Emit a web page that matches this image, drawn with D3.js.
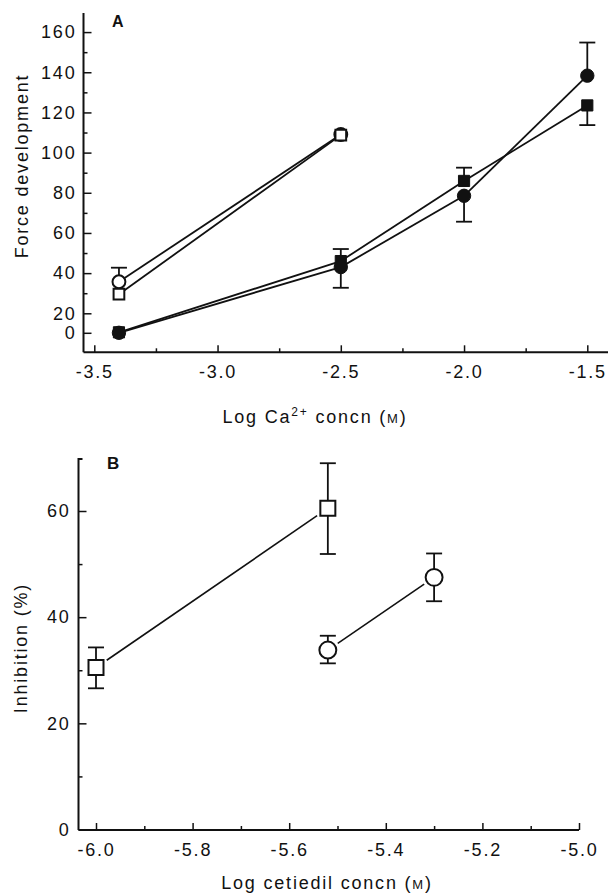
<!DOCTYPE html>
<html>
<head>
<meta charset="utf-8">
<script src="https://cdn.jsdelivr.net/npm/d3@7"></script>
<style>
  html, body { margin: 0; padding: 0; background: #fff; }
  svg { display: block; }
  text { font-family: "Liberation Sans", Arial, Helvetica, sans-serif; fill: #111; }
</style>
</head>
<body>
<svg id="chart" width="608" height="896"></svg>
<script>
// ---------------- DATA ----------------
// Panel A: force development vs log Ca2+ concentration
const caConc = [-3.4, -2.5, -2.0, -1.5];
const openCircleA = [35.7, 109];          // first two concentrations
const openCircleAErrUp = [7, 0];
const openSquareA = [29.5, 108.7];
const filledCircleA = [0, 43, 78.5, 138.3];
const filledCircleAErrUp = [0, 0, 0, 16.5];
const filledCircleAErrDown = [0, 10.3, 12.9, 0];
const filledSquareA = [0.5, 46, 85.9, 123.5];
const filledSquareAErrUp = [0, 6, 6.6, 0];
const filledSquareAErrDown = [0, 0, 0, 9.8];
const yTicksA = [0, 20, 40, 60, 80, 100, 120, 140, 160];
const yMinorA = [30, 50, 70, 90, 110, 130, 150];
const xTicksA = [-3.5, -3.0, -2.5, -2.0, -1.5];
const xMinorA = [-3.25, -2.75, -2.25, -1.75];

// Panel B: inhibition vs log cetiedil concentration
const cetSquareX = [-6.0, -5.52];
const squareB = [30.5, 60.5];
const squareBErrUp = [3.8, 8.5];
const squareBErrDown = [3.9, 8.6];
const cetCircleX = [-5.52, -5.3];
const circleB = [33.8, 47.5];
const circleBErrUp = [2.7, 4.5];
const circleBErrDown = [2.5, 4.5];
const yTicksB = [0, 20, 40, 60];
const yMinorB = [10, 30, 50];
const xTicksB = [-6.0, -5.8, -5.6, -5.4, -5.2, -5.0];
const xMinorB = [-5.9, -5.7, -5.5, -5.3, -5.1];

// ---------------- LAYOUT ----------------
const svg = d3.select("#chart");
const INK = "#111";
const FS = 18, LS = "1.8px";
const fmt = d => d.toFixed(1);

function styleAxis(g) {
  g.select(".domain").remove();
  g.attr("font-size", FS).attr("font-family", '"Liberation Sans", Arial, sans-serif');
  g.selectAll(".tick line").attr("stroke", INK).attr("stroke-width", 1.5);
  g.selectAll(".tick text").attr("fill", INK).style("letter-spacing", LS);
}

function series(g, xs, ys, xS, yS, opt) {
  const pts = xs.map((x, i) => [xS(x), yS(ys[i])]);
  for (let i = 0; i < pts.length - 1; i++) {
    let [x1, y1] = pts[i], [x2, y2] = pts[i + 1];
    const dx = x2 - x1, dy = y2 - y1, L = Math.hypot(dx, dy);
    const gap = opt.gap || 0;
    g.append("line")
      .attr("x1", x1 + dx / L * gap).attr("y1", y1 + dy / L * gap)
      .attr("x2", x2 - dx / L * gap).attr("y2", y2 - dy / L * gap)
      .attr("stroke", INK).attr("stroke-width", opt.lw || 1.8);
  }
  xs.forEach((x, i) => {
    const up = opt.errUp ? opt.errUp[i] : 0, dn = opt.errDown ? opt.errDown[i] : 0;
    const cx = xS(x);
    [[up, 1], [dn, -1]].forEach(([e, s]) => {
      if (!e) return;
      const yEnd = yS(ys[i] + s * e);
      g.append("line").attr("x1", cx).attr("x2", cx)
        .attr("y1", yS(ys[i])).attr("y2", yEnd)
        .attr("stroke", INK).attr("stroke-width", 1.8);
      g.append("line").attr("x1", cx - opt.cap).attr("x2", cx + opt.cap)
        .attr("y1", yEnd).attr("y2", yEnd)
        .attr("stroke", INK).attr("stroke-width", 1.8);
    });
  });
  const sym = d3.symbol().type(opt.type).size(opt.size);
  g.selectAll(null).data(pts).join("path")
    .attr("transform", d => `translate(${d[0]},${d[1]})`)
    .attr("d", sym)
    .attr("fill", opt.filled ? INK : "#fff")
    .attr("stroke", INK).attr("stroke-width", opt.filled ? 1 : 2);
}

// ================= PANEL A =================
const A = svg.append("g");
const xA = d3.scaleLinear().domain([-3.5, -1.5]).range([94.3, 587.3]);
const yA = d3.scaleLinear().domain([-20, 20, 170]).range([352.3, 313.3, 12]);
const axAx = 83.5, axAy = yA(-20);

A.append("g").attr("transform", `translate(0,${axAy})`)
  .call(d3.axisBottom(xA).tickValues(xTicksA).tickFormat(fmt).tickSize(-7).tickPadding(13))
  .call(styleAxis);
A.append("g").attr("transform", `translate(0,${axAy})`)
  .call(d3.axisBottom(xA).tickValues(xMinorA).tickFormat("").tickSize(-4))
  .call(styleAxis);
A.append("g").attr("transform", `translate(${axAx},0)`)
  .call(d3.axisLeft(yA).tickValues(yTicksA).tickFormat(d3.format("d")).tickSize(-8).tickPadding(7))
  .call(styleAxis);
A.append("g").attr("transform", `translate(${axAx},0)`)
  .call(d3.axisLeft(yA).tickValues(yMinorA).tickFormat("").tickSize(-4))
  .call(styleAxis);
A.append("line").attr("x1", axAx).attr("x2", 608).attr("y1", axAy).attr("y2", axAy)
  .attr("stroke", INK).attr("stroke-width", 2);
A.append("line").attr("x1", axAx).attr("x2", axAx).attr("y1", axAy).attr("y2", 13)
  .attr("stroke", INK).attr("stroke-width", 2);

series(A, caConc.slice(0, 2), openCircleA, xA, yA,
  { type: d3.symbolCircle, size: 130, filled: false, cap: 8, errUp: openCircleAErrUp });
series(A, caConc.slice(0, 2), openSquareA, xA, yA,
  { type: d3.symbolSquare, size: 115, filled: false, cap: 8 });
series(A, caConc, filledSquareA, xA, yA,
  { type: d3.symbolSquare, size: 125, filled: true, cap: 8, errUp: filledSquareAErrUp, errDown: filledSquareAErrDown });
series(A, caConc, filledCircleA, xA, yA,
  { type: d3.symbolCircle, size: 140, filled: true, cap: 8, errUp: filledCircleAErrUp, errDown: filledCircleAErrDown });

A.append("text").attr("x", 112).attr("y", 27).attr("font-size", 16).attr("font-weight", "bold").text("A");
A.append("text").attr("transform", "translate(28,166) rotate(-90)")
  .attr("text-anchor", "middle").attr("font-size", FS).style("letter-spacing", LS)
  .text("Force development");
const tA = A.append("text").attr("x", 315).attr("y", 423).attr("text-anchor", "middle")
  .attr("font-size", FS).style("letter-spacing", LS);
tA.append("tspan").text("Log Ca");
tA.append("tspan").attr("font-size", 12).attr("dy", -7).text("2+");
tA.append("tspan").attr("dy", 7).text(" concn (");
tA.append("tspan").attr("font-size", 13).text("M");
tA.append("tspan").text(")");

// ================= PANEL B =================
const B = svg.append("g");
const xB = d3.scaleLinear().domain([-6.0, -5.0]).range([96, 579]);
const yB = d3.scaleLinear().domain([0, 60]).range([829.5, 511]);
const axBx = 78.5, axBy = 830, axBtop = 459;

B.append("g").attr("transform", `translate(0,${axBy})`)
  .call(d3.axisBottom(xB).tickValues(xTicksB).tickFormat(fmt).tickSize(-7).tickPadding(13))
  .call(styleAxis);
B.append("g").attr("transform", `translate(0,${axBy})`)
  .call(d3.axisBottom(xB).tickValues(xMinorB).tickFormat("").tickSize(-4))
  .call(styleAxis);
B.append("g").attr("transform", `translate(${axBx},0)`)
  .call(d3.axisLeft(yB).tickValues(yTicksB).tickFormat(d3.format("d")).tickSize(-8).tickPadding(8))
  .call(styleAxis);
B.append("g").attr("transform", `translate(${axBx},0)`)
  .call(d3.axisLeft(yB).tickValues(yMinorB).tickFormat("").tickSize(-4))
  .call(styleAxis);
B.append("line").attr("x1", axBx).attr("x2", xB(-5.0)).attr("y1", axBy).attr("y2", axBy)
  .attr("stroke", INK).attr("stroke-width", 2);
B.append("path").attr("d", `M${axBx},${axBy}V${axBtop}h4`)
  .attr("fill", "none").attr("stroke", INK).attr("stroke-width", 2);

series(B, cetSquareX, squareB, xB, yB,
  { type: d3.symbolSquare, size: 225, filled: false, cap: 8, gap: 13, lw: 1.6,
    errUp: squareBErrUp, errDown: squareBErrDown });
series(B, cetCircleX, circleB, xB, yB,
  { type: d3.symbolCircle, size: 225, filled: false, cap: 8, gap: 12, lw: 1.6,
    errUp: circleBErrUp, errDown: circleBErrDown });

B.append("text").attr("x", 107).attr("y", 469).attr("font-size", 17).attr("font-weight", "bold").text("B");
B.append("text").attr("transform", "translate(27,648) rotate(-90)")
  .attr("text-anchor", "middle").attr("font-size", FS).style("letter-spacing", LS)
  .text("Inhibition (%)");
const tB = B.append("text").attr("x", 327).attr("y", 889).attr("text-anchor", "middle")
  .attr("font-size", FS).style("letter-spacing", LS);
tB.append("tspan").text("Log cetiedil concn (");
tB.append("tspan").attr("font-size", 13).text("M");
tB.append("tspan").text(")");
</script>
</body>
</html>
